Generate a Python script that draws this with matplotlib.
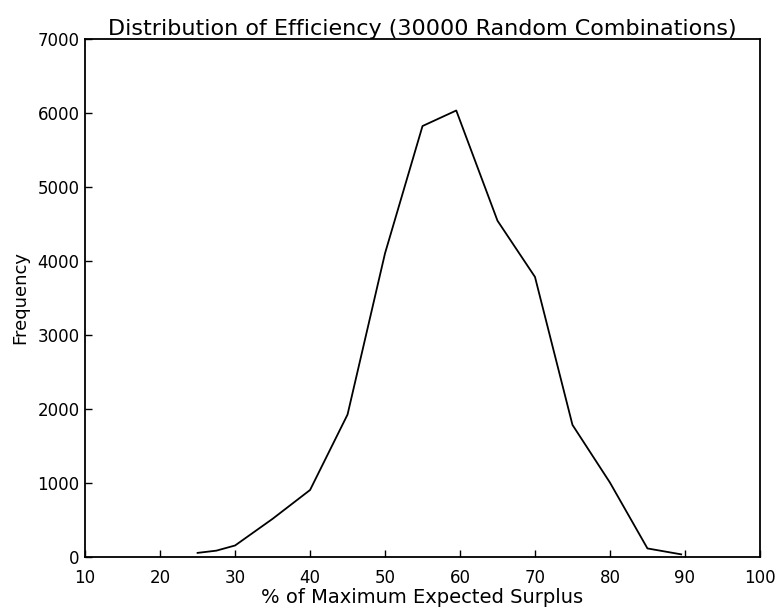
import matplotlib
matplotlib.use("Agg")
import matplotlib.pyplot as plt

# efficiency bins (% of max expected surplus) and counts
efficiency = [25, 27.5, 30, 35, 40, 45, 50, 55, 59.5, 65, 70, 75, 80, 85, 89.5]
frequency = [50, 80, 150, 510, 900, 1920, 4100, 5820, 6030, 4540, 3780, 1780, 1000, 110, 30]

xticks = [10, 20, 30, 40, 50, 60, 70, 80, 90, 100]
yticks = [0, 1000, 2000, 3000, 4000, 5000, 6000, 7000]

plt.rcParams['font.family'] = ['DejaVu Sans']

fig = plt.figure(figsize=(7.81, 6.15), dpi=100)
ax = fig.add_axes([0.109, 0.095, 0.864, 0.842])

ax.plot(efficiency, frequency, color='black', linewidth=1.3)

ax.set_xlim(10, 100)
ax.set_ylim(0, 7000)
ax.set_xticks(xticks)
ax.set_yticks(yticks)
ax.tick_params(direction='in', length=5, width=1, labelsize=12,
               top=False, right=False)
ax.tick_params(axis='x', pad=9)
ax.tick_params(axis='y', pad=4)
for s in ax.spines.values():
    s.set_linewidth(1.3)

ax.set_title('Distribution of Efficiency (30000 Random Combinations)',
             fontsize=16, pad=2)
ax.set_xlabel('% of Maximum Expected Surplus', fontsize=14, labelpad=1)
ax.set_ylabel('Frequency', fontsize=13, labelpad=6)

fig.savefig('out.png', dpi=100)
